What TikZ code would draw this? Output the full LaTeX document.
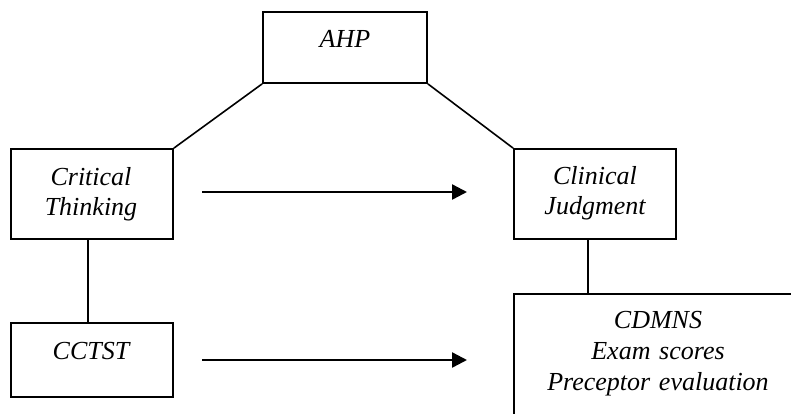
\documentclass[tikz,border=0pt]{standalone}
\usepackage{fontspec}
\setmainfont{Liberation Serif}
\usetikzlibrary{arrows.meta}
\begin{document}
\begin{tikzpicture}[x=1pt,y=-1pt,
  boxst/.style={draw=black, line width=1.8pt, rectangle, inner sep=0pt, fill=none},
  txt/.style={font=\fontsize{26}{30}\selectfont\itshape, align=center, text width=300pt, anchor=base, inner sep=0pt},
  link/.style={draw=black, line width=1.6pt},
  flow/.style={draw=black, line width=2.4pt, -{Triangle[length=15pt,width=15pt]}}
]
\useasboundingbox (0,0) rectangle (791,413);
\fill[white] (0,0) rectangle (791,413);
\clip (0,0) rectangle (791,413);

\node[boxst, minimum width=164pt, minimum height=71pt] (ahp) at (345,47.5) {};
\node[boxst, minimum width=162pt, minimum height=90pt] (ct) at (92,194) {};
\node[boxst, minimum width=162pt, minimum height=90pt] (cj) at (595,194) {};
\node[boxst, minimum width=162pt, minimum height=74pt] (cctst) at (92,360) {};
\node[boxst, minimum width=288pt, minimum height=150pt] (cd) at (658,369) {};

\node[txt] (ahpt) at (345,47) {AHP};
\node[txt] (ctt) at (91,185) {Critical\\Thinking};
\node[txt] (cjt) at (595,184) {Clinical\\Judgment};
\node[txt] (cctstt) at (91,359) {CCTST};
\node[txt, font=\fontsize{26}{31}\selectfont\itshape] (cdt) at (658,328) {CDMNS\\Exam scores\\Preceptor evaluation};

\draw[link] (ct.north east) -- (ahp.south west);
\draw[link] (ahp.south east) -- (cj.north west);
\draw[link] ([xshift=-4pt]ct.south) -- ([xshift=-4pt]cctst.north);
\coordinate (cjb) at ([xshift=-7pt]cj.south);
\draw[link] (cjb) -- (cjb |- cd.north);

\coordinate (a1s) at (202,192);
\coordinate (a1e) at (467,192);
\coordinate (a2s) at (202,360);
\coordinate (a2e) at (467,360);
\draw[flow] (a1s) -- (a1e);
\draw[flow] (a2s) -- (a2e);
\end{tikzpicture}
\end{document}
